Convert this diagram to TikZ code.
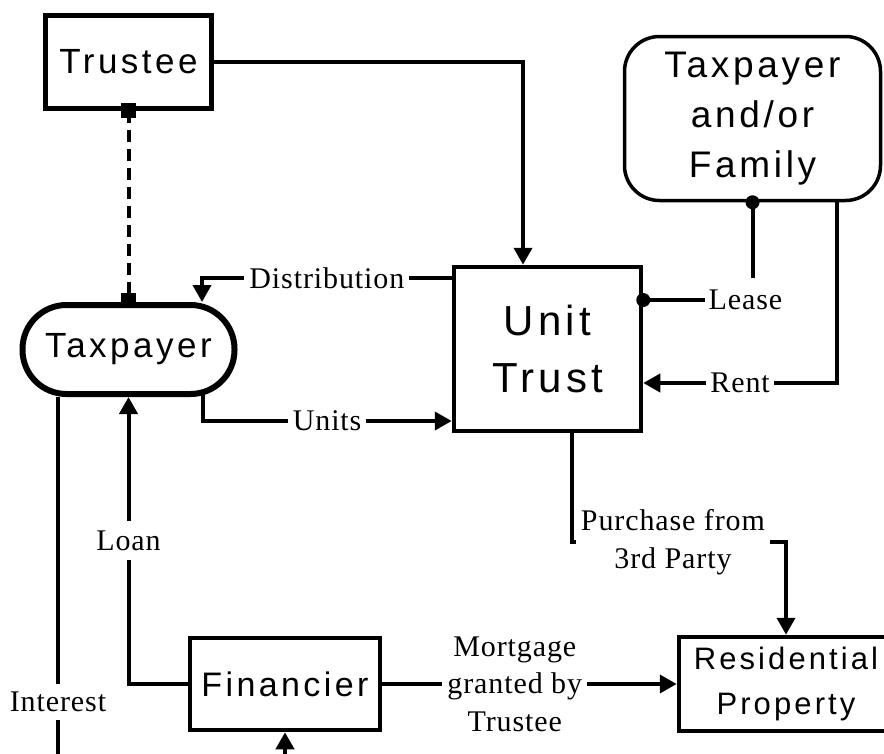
\documentclass[tikz,border=0pt]{standalone}
\usepackage{fontspec}
\newfontfamily\sansf[LetterSpace=10]{Liberation Sans}
\newfontfamily\serf[LetterSpace=3]{Liberation Serif}
\usetikzlibrary{arrows.meta,calc}
\begin{document}
\begin{tikzpicture}[x=1pt,y=-1pt,
  box/.style={draw,line width=4.5pt,inner sep=0pt,align=center},
  conn/.style={line width=4pt},
  arr/.style={conn,-{Triangle[length=17pt,width=18pt]}},
  lab/.style={fill=white,inner xsep=5pt,inner ysep=4pt,align=center,font=\serf\fontsize{30}{37.5}\selectfont},
]
\useasboundingbox (0,0) rectangle (884,753);
% nodes
\node[box,minimum width=166pt,minimum height=93pt,font=\sansf\fontsize{35}{42}\selectfont] (tr) at (128.5,62) {Trustee};
\node[box,line width=6pt,rounded corners=44pt,minimum width=212pt,minimum height=89pt,font=\sansf\fontsize{35}{42}\selectfont] (tp) at (128.5,349.5) {Taxpayer};
\node[box,minimum width=187pt,minimum height=164pt,font=\sansf\fontsize{42}{57}\selectfont] (ut) at (547.5,349) {Unit\\Trust};
\node[box,line width=3.5pt,rounded corners=35pt,minimum width=256pt,minimum height=164pt,font=\sansf\fontsize{37}{50}\selectfont] (fam) at (752.5,118.5) {Taxpayer\\and/or\\Family};
\node[box,minimum width=190pt,minimum height=92pt,font=\sansf\fontsize{34}{42}\selectfont] (fin) at (285,684) {Financier};
\node[box,minimum width=214pt,minimum height=94pt,font=\sansf\fontsize{31}{45}\selectfont] (res) at (786,684) {Residential\\Property};
\coordinate (intb) at (58,760);
\coordinate (finb) at (285,760);
% connectors
\draw[arr] (tr.east) -| ([xshift=-24.5pt]ut.north);
\draw[line width=4pt,dash pattern=on 12pt off 7pt] (tr.south) -- (tp.north);
\fill ([xshift=-7.5pt,yshift=-7.5pt]tr.south) rectangle ([xshift=7.5pt,yshift=7.5pt]tr.south);
\fill ([xshift=-7.5pt,yshift=-5.5pt]tp.north) rectangle ([xshift=7.5pt,yshift=9.5pt]tp.north);
\draw[arr] ([yshift=71pt]ut.west) -| ([xshift=73.5pt]tp.north) node[lab,pos=0.25]{Distribution};
\draw[arr] ([xshift=74pt,yshift=3pt]tp.south) |- ([yshift=-72pt]ut.west) node[lab,pos=0.75]{Units};
\draw[conn] (fam.south) |- ([yshift=49pt]ut.east) node[lab,pos=0.5,xshift=-7pt,inner xsep=4pt,inner ysep=12pt]{Lease};
\fill (fam.south) circle (7pt);
\fill ([yshift=49pt]ut.east) circle (7pt);
\draw[arr] ([xshift=84.5pt]fam.south) |- ([yshift=-34pt]ut.east) node[lab,pos=0.75,inner xsep=4pt]{Rent};
\draw[arr] ([xshift=24.5pt]ut.south) -- ++(0,109) -| (res.north) node[lab,pos=0.25,xshift=-6pt,inner xsep=5pt]{Purchase from\\3rd Party};
\draw[arr] (fin.east) -- (res.west) node[lab,pos=0.45]{Mortgage\\granted by\\Trustee};
\draw[arr] (fin.west) -| (tp.south) node[lab,pos=0.75,inner ysep=10pt]{Loan};
\draw[conn] ([xshift=-70.5pt]tp.south) -- (intb) node[lab,pos=0.84,inner ysep=8pt]{Interest};
\draw[arr] (finb) -- (fin.south);
\end{tikzpicture}
\end{document}
